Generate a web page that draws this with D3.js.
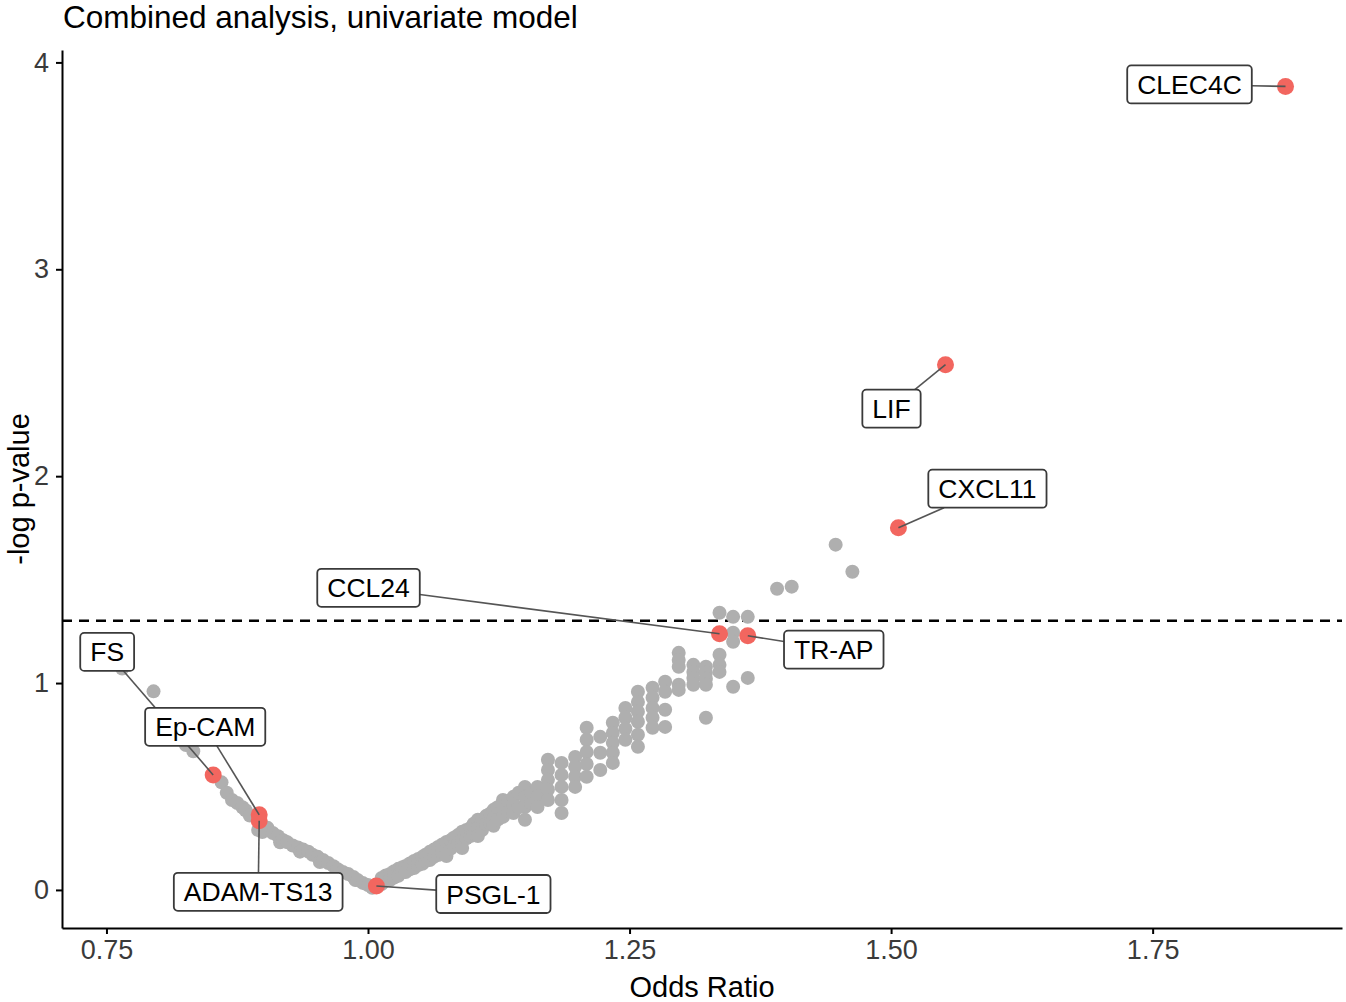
<!DOCTYPE html>
<html lang="en">
<head>
<meta charset="utf-8">
<title>Combined analysis, univariate model</title>
<script src="https://d3js.org/d3.v7.min.js"></script>
<style>
  body { margin: 0; background: #fff; }
  svg { font-family: "Liberation Sans", Arial, sans-serif; }
  .axis path, .axis line { stroke: #000; stroke-width: 2px; }
  .axis text { font-size: 27px; fill: #3a3a3a; }
  .lab rect { fill: #fff; stroke: #3a3a3a; stroke-width: 1.8px; }
  .lab text { font-size: 26.5px; fill: #000; }
  .seg { stroke: #555; stroke-width: 1.6px; }
</style>
</head>
<body>
<script>
// ---- data ----
var chartTitle = "Combined analysis, univariate model";
var xTitle = "Odds Ratio", yTitle = "-log p-value";
var xTicks = [0.75, 1.00, 1.25, 1.50, 1.75];
var yTicks = [0, 1, 2, 3, 4];
var threshold = 1.301; // -log10(0.05)

// grey markers, one entry per odds ratio column, with the p-values stacked there
var greyOdds = [0.765, 0.795, 0.826, 0.833, 0.860, 0.865, 0.870, 0.875, 0.880, 0.883,
  0.887, 0.895, 0.899, 0.904, 0.909, 0.914, 0.916, 0.919, 0.923, 0.928,
  0.933, 0.935, 0.938, 0.943, 0.947, 0.952, 0.954, 0.957, 0.962, 0.967,
  0.971, 0.973, 0.976, 0.981, 0.986, 0.988, 0.990, 0.995, 1.000, 1.004,
  1.013, 1.017, 1.021, 1.025, 1.029, 1.033, 1.036, 1.040, 1.044, 1.048,
  1.052, 1.055, 1.059, 1.063, 1.067, 1.071, 1.075, 1.079, 1.082, 1.086,
  1.090, 1.094, 1.098, 1.101, 1.105, 1.109, 1.113, 1.117, 1.120, 1.124,
  1.129, 1.134, 1.139, 1.144, 1.150, 1.156, 1.162, 1.172,
  1.185, 1.198, 1.209, 1.222, 1.234, 1.246, 1.258, 1.272, 1.284, 1.297,
  1.311, 1.323, 1.336, 1.349, 1.363, 1.391, 1.405, 1.447, 1.463];
var greyLogP = [[1.07], [0.96], [0.70], [0.67], [0.52], [0.47], [0.435], [0.42], [0.40], [0.385],
  [0.36], [0.29], [0.28], [0.30], [0.275], [0.26], [0.23], [0.24], [0.23], [0.215],
  [0.205], [0.185], [0.195], [0.185], [0.17], [0.16], [0.135], [0.145], [0.13], [0.115],
  [0.10], [0.082], [0.087], [0.077], [0.063], [0.048], [0.048], [0.034], [0.024], [0.010],
  [0.058, 0.029], [0.045, 0.070], [0.077, 0.048], [0.060, 0.090], [0.102, 0.068],
  [0.085, 0.110], [0.116, 0.087], [0.100, 0.128], [0.140, 0.106], [0.120, 0.150],
  [0.160, 0.126], [0.140, 0.170], [0.184, 0.145], [0.160, 0.195], [0.208, 0.169],
  [0.180, 0.220], [0.232, 0.193, 0.164], [0.200, 0.240], [0.252, 0.213], [0.225, 0.265],
  [0.281, 0.242, 0.203], [0.250, 0.290], [0.300, 0.261], [0.270, 0.320],
  [0.339, 0.300, 0.261], [0.290, 0.340], [0.358, 0.319], [0.320, 0.370],
  [0.387, 0.348, 0.310], [0.340, 0.400],
  [0.435, 0.397, 0.353], [0.380, 0.430], [0.450, 0.411, 0.372], [0.400, 0.470],
  [0.498, 0.450, 0.401, 0.339], [0.420, 0.470], [0.498, 0.450, 0.401],
  [0.629, 0.580, 0.532, 0.484, 0.435], [0.614, 0.556, 0.498, 0.435, 0.372],
  [0.643, 0.595, 0.547, 0.498], [0.784, 0.726, 0.667, 0.609, 0.547],
  [0.740, 0.663, 0.580], [0.808, 0.759, 0.711, 0.663, 0.614],
  [0.880, 0.832, 0.779, 0.726], [0.958, 0.909, 0.861, 0.813, 0.750, 0.692],
  [0.977, 0.929, 0.880, 0.832, 0.784], [1.006, 0.958, 0.871, 0.788],
  [1.146, 1.112, 1.079, 0.992, 0.967], [1.088, 1.054, 1.025, 0.992],
  [1.079, 1.050, 1.021, 0.992, 0.832], [1.340, 1.137, 1.088, 1.054],
  [1.320, 1.243, 1.200, 0.982], [1.320, 1.025],
  [1.456], [1.466], [1.669], [1.538]];

// highlighted proteins
var hitNames = ["CLEC4C", "LIF", "CXCL11", "CCL24", "TR-AP", "FS", "Ep-CAM", "ADAM-TS13", "PSGL-1"];
var hitOdds  = [1.877, 1.552, 1.507, 1.336, 1.363, 0.852, 0.896, 0.896, 1.008];
var hitLogP  = [3.884, 2.539, 1.751, 1.238, 1.229, 0.556, 0.363, 0.334, 0.019];

// ---- layout ----
var width = 1346, height = 1002;
var plotLeft = 62, plotRight = 1342, plotTop = 50, plotBottom = 928;
// where the repelled labels ended up, relative to their point (px)
var labelShift = [[-96, -2], [-54, 44], [89, -39], [-351, -46], [86, 14],
                  [-106, -123], [-54, -88], [-1, 71], [117, 8]];

var svg = d3.select("body").append("svg")
  .attr("width", width)
  .attr("height", height);

var x = d3.scaleLinear().domain([0.7075, 1.931]).range([plotLeft, plotRight]);
var y = d3.scaleLinear().domain([-0.184, 4.06]).range([plotBottom, plotTop]);

svg.append("g")
  .attr("class", "axis")
  .attr("transform", "translate(0," + plotBottom + ")")
  .call(d3.axisBottom(x).tickValues(xTicks).tickFormat(d3.format(".2f"))
    .tickSizeInner(6).tickSizeOuter(0).tickPadding(6));

svg.append("g")
  .attr("class", "axis")
  .attr("transform", "translate(" + plotLeft + ",0)")
  .call(d3.axisLeft(y).tickValues(yTicks).tickFormat(d3.format("d"))
    .tickSizeInner(6).tickSizeOuter(0).tickPadding(7));

svg.selectAll(".axis").attr("font-family", null).attr("font-size", null);

// significance threshold
svg.append("line")
  .attr("x1", plotLeft).attr("x2", plotRight)
  .attr("y1", y(threshold)).attr("y2", y(threshold))
  .attr("stroke", "#000")
  .attr("stroke-width", 2.5)
  .attr("stroke-dasharray", "10,7");

// grey points
var grey = [];
greyOdds.forEach(function(o, i) {
  greyLogP[i].forEach(function(p) { grey.push({or: o, p: p}); });
});

svg.append("g").selectAll("circle")
  .data(grey)
  .enter().append("circle")
  .attr("cx", d => x(d.or))
  .attr("cy", d => y(d.p))
  .attr("r", 7)
  .attr("fill", "#afafaf");

var hits = hitNames.map(function(n, i) {
  return {name: n, or: hitOdds[i], p: hitLogP[i], dx: labelShift[i][0], dy: labelShift[i][1]};
});

svg.append("g").selectAll("circle")
  .data(hits)
  .enter().append("circle")
  .attr("cx", d => x(d.or))
  .attr("cy", d => y(d.p))
  .attr("r", 8.5)
  .attr("fill", "#f2665f");

// labels: measure text first, then segments, then boxes on top
var segG = svg.append("g");
var labG = svg.append("g");
var boxH = 38;

var labs = labG.selectAll("g.lab")
  .data(hits)
  .enter().append("g")
  .attr("class", "lab");

labs.append("rect");
labs.append("text")
  .attr("text-anchor", "middle")
  .attr("dy", "0.36em")
  .text(d => d.name);

labs.each(function(d) {
  var g = d3.select(this);
  var w = g.select("text").node().getComputedTextLength() + 20;
  var px = x(d.or), py = y(d.p);
  var cx = px + d.dx, cy = py + d.dy;
  g.select("text").attr("x", cx).attr("y", cy);
  g.select("rect")
    .attr("x", cx - w / 2).attr("y", cy - boxH / 2)
    .attr("width", w).attr("height", boxH)
    .attr("rx", 4).attr("ry", 4);
  // segment from the point to the box edge, aimed at the box centre
  var vx = cx - px, vy = cy - py;
  var s = Math.min(vx ? (w / 2) / Math.abs(vx) : Infinity, vy ? (boxH / 2) / Math.abs(vy) : Infinity);
  segG.append("line")
    .attr("class", "seg")
    .attr("x1", px).attr("y1", py)
    .attr("x2", cx - s * vx).attr("y2", cy - s * vy);
});

// titles
svg.append("text")
  .attr("x", 63).attr("y", 28)
  .attr("font-size", 31.5)
  .attr("fill", "#000")
  .text(chartTitle);

svg.append("text")
  .attr("x", (plotLeft + plotRight) / 2).attr("y", 997)
  .attr("text-anchor", "middle")
  .attr("font-size", 29)
  .attr("fill", "#000")
  .text(xTitle);

svg.append("text")
  .attr("transform", "translate(29," + (plotTop + plotBottom) / 2 + ") rotate(-90)")
  .attr("text-anchor", "middle")
  .attr("font-size", 29)
  .attr("fill", "#000")
  .text(yTitle);
</script>
</body>
</html>
